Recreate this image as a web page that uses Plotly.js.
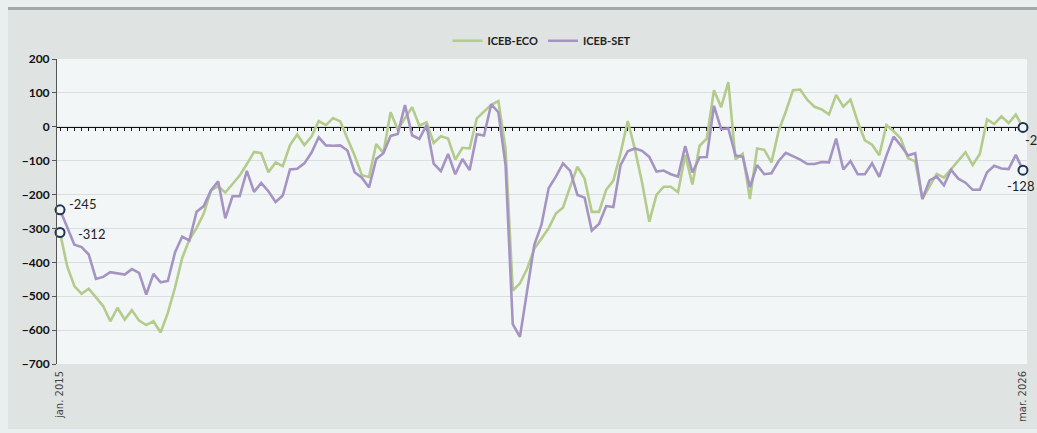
<!DOCTYPE html>
<html>
<head>
<meta charset="utf-8">
<script src="https://cdn.plot.ly/plotly-3.0.1.min.js"></script>
<style>
  html, body { margin: 0; padding: 0; background: #e9eeee; width: 1037px; height: 433px; overflow: hidden; }
  #topRule { position: absolute; left: 8px; top: 7px; width: 1029px; height: 3px; background: #a4a8a9; }
  #myDiv { position: absolute; left: 8px; top: 10px; width: 1029px; height: 419px; }
</style>
</head>
<body>
<div id="topRule"></div>
<div id="myDiv"></div>
<script>
// monthly values, jan. 2015 .. mar. 2026
let firstLabel = 'jan. 2015';
let lastLabel = 'mar. 2026';

let eco = [
  -312, -412, -470, -493, -478, -505, -529, -574, -534, -569, -541, -572,
  -585, -574, -607, -549, -475, -387, -333, -299, -256, -188, -176, -194,
  -170, -144, -110, -74, -78, -134, -105, -116, -54, -23, -54, -29,
  17, 5, 26, 16, -35, -85, -143, -148, -51, -77, 43, -8,
  25, 58, 3, 13, -48, -28, -35, -97, -62, -64, 25, 44,
  65, 76, -66, -483, -462, -419, -360, -330, -299, -256, -238, -176,
  -118, -153, -251, -251, -186, -159, -78, 17, -66, -165, -280, -201,
  -177, -177, -193, -83, -170, -56, -35, 108, 58, 132, -96, -80,
  -213, -64, -68, -105, -12, 45, 108, 110, 79, 59, 51, 36,
  94, 59, 80, 15, -40, -53, -84, 5, -13, -35, -93, -102,
  -213, -176, -139, -150, -125, -100, -75, -113, -80, 22, 8, 31,
  11, 36, -2
];

let set = [
  -245, -294, -348, -355, -377, -449, -443, -429, -433, -436, -420, -431,
  -495, -434, -459, -455, -371, -324, -336, -251, -234, -188, -161, -270,
  -205, -205, -130, -192, -166, -190, -222, -203, -126, -124, -108, -76,
  -31, -55, -56, -55, -70, -134, -150, -179, -95, -78, -27, -21,
  64, -25, -36, 5, -109, -131, -80, -140, -95, -128, -22, -26,
  66, 43, -113, -582, -620, -485, -348, -289, -181, -147, -108, -130,
  -201, -209, -306, -287, -234, -237, -113, -72, -64, -71, -89, -132,
  -129, -140, -147, -57, -135, -90, -89, 62, -7, -5, -85, -88,
  -178, -113, -140, -137, -101, -77, -87, -97, -110, -110, -104, -105,
  -35, -126, -101, -140, -140, -108, -148, -85, -29, -55, -85, -78,
  -213, -158, -147, -173, -127, -153, -165, -186, -186, -134, -115, -123,
  -125, -83, -128
];

let x = [];
for (let i = 0; i < eco.length; i++) x.push(i);
let last = eco.length - 1;

let green = '#b3cb8b';
let purple = '#a594c2';
let navy = '#1f3553';
let xr = [-0.42, last + 0.56];

let traces = [
  // invisible trace so the zero axis (x2) gets drawn
  { x: x, y: x.map(() => null), xaxis: 'x2', mode: 'lines', type: 'scatter',
    showlegend: false, hoverinfo: 'skip' },
  { name: 'ICEB-ECO', x: x, y: eco, mode: 'lines', type: 'scatter',
    line: { color: green, width: 2.6 }, hoverinfo: 'skip' },
  { name: 'ICEB-SET', x: x, y: set, mode: 'lines', type: 'scatter',
    line: { color: purple, width: 2.6 }, hoverinfo: 'skip' },
  // end point circles
  { x: [0, 0, last, last], y: [eco[0], set[0], eco[last], set[last]],
    mode: 'markers', type: 'scatter', showlegend: false, cliponaxis: false,
    marker: { symbol: 'circle', size: 9, color: '#f3f6f7', line: { color: navy, width: 2 } },
    hoverinfo: 'skip' }
];

let lblFont = { family: 'Lato, "Open Sans", sans-serif', size: 13, color: '#222' };

let layout = {
  width: 1029, height: 419,
  margin: { l: 49, r: 10, t: 49, b: 65 },
  paper_bgcolor: '#dfe3e2',
  plot_bgcolor: '#f3f6f7',
  showlegend: true,
  legend: {
    orientation: 'h', x: 0.5, xanchor: 'center', y: 1.06, yanchor: 'middle',
    font: { family: 'Lato, sans-serif', size: 11, color: '#222', weight: 'bold' },
    bgcolor: 'rgba(0,0,0,0)'
  },
  xaxis: {
    range: xr, showgrid: false, zeroline: false, showline: false,
    tickmode: 'array', tickvals: [0, last], ticktext: [firstLabel, lastLabel],
    tickangle: -90, ticks: '', ticklabelstandoff: 4,
    tickfont: { family: '"DejaVu Sans", sans-serif', size: 10, color: '#444' }
  },
  xaxis2: {
    overlaying: 'x', anchor: 'free', position: 700 / 900, side: 'bottom',
    range: xr, showgrid: false, zeroline: false, layer: 'below traces',
    showline: true, linecolor: '#111', linewidth: 1,
    ticks: 'outside', tickmode: 'linear', tick0: 0, dtick: 1,
    ticklen: 3, tickwidth: 1, tickcolor: '#111', showticklabels: false
  },
  yaxis: {
    range: [-700, 200], dtick: 100, tick0: 0,
    showgrid: true, gridcolor: '#dadede', gridwidth: 1, zeroline: false,
    showline: true, linecolor: '#555', linewidth: 1,
    ticks: 'outside', ticklen: 4, tickcolor: '#555',
    tickfont: { family: 'Lato, sans-serif', size: 12, color: '#111', weight: 'bold' }
  },
  annotations: [
    { x: 0, y: set[0], text: String(set[0]), showarrow: false, xanchor: 'left', yanchor: 'middle',
      xshift: 7, yshift: 6, font: lblFont },
    { x: 0, y: eco[0], text: String(eco[0]), showarrow: false, xanchor: 'left', yanchor: 'middle',
      xshift: 16, yshift: -1, font: lblFont },
    { x: last, y: eco[last], text: String(eco[last]), showarrow: false, xanchor: 'left', yanchor: 'middle',
      xshift: 0, yshift: -13, font: lblFont },
    { x: last, y: set[last], text: String(set[last]), showarrow: false, xanchor: 'right', yanchor: 'middle',
      xshift: 13, yshift: -16, font: lblFont }
  ]
};

Plotly.newPlot('myDiv', traces, layout, { staticPlot: true });
</script>
</body>
</html>
